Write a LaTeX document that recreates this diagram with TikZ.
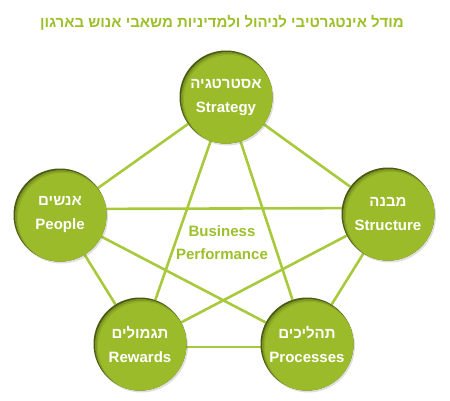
\documentclass[tikz,border=0pt]{standalone}
\usepackage{fontspec}
\setmainfont{Liberation Sans}
\newfontfamily\hebfont[Script=Hebrew]{Liberation Sans}
\TeXXeTstate=1
\usetikzlibrary{shadows, backgrounds}

\definecolor{hrgreen}{HTML}{9BBB2B}
\definecolor{hrline}{HTML}{A9C93C}
\definecolor{hrdark}{HTML}{4A5A12}
\definecolor{hrtitle}{HTML}{9CBF2A}

\tikzset{
    hrcircle/.style={
        circle, minimum size=93pt, inner sep=0pt,
        fill=hrdark, text=white, align=center,
        font=\bfseries\fontsize{15}{24}\selectfont,
        drop shadow={shadow xshift=1.5pt, shadow yshift=-2pt, opacity=0.25, fill=black!50},
        path picture={
            \fill[hrgreen!60!hrdark] ([xshift=1pt, yshift=-1pt]path picture bounding box.center) circle (46pt);
            \fill[hrgreen!85!hrdark] ([xshift=2pt, yshift=-2pt]path picture bounding box.center) circle (45.5pt);
            \fill[hrgreen] ([xshift=3pt, yshift=-3pt]path picture bounding box.center) circle (45pt);
        }
    },
    hrlink/.style={hrline, line width=2.6pt}
}

\begin{document}
\begin{tikzpicture}[x=1pt, y=-1pt]
        \useasboundingbox (0, 0) rectangle (450, 400);

        \node[text=hrtitle, font=\bfseries\fontsize{15}{18}\selectfont] (title) at (222, 23)
            {\hebfont\beginR מודל אינטגרטיבי לניהול ולמדיניות משאבי אנוש בארגון\endR};

        \node[hrcircle] (strategy)  at (226, 97)  {\hebfont\beginR אסטרטגיה\endR\\Strategy};
        \node[hrcircle] (people)    at (60, 215)  {\hebfont\beginR אנשים\endR\\People};
        \node[hrcircle] (structure) at (388, 214) {\hebfont\beginR מבנה\endR\\Structure};
        \node[hrcircle] (rewards)   at (140, 344) {\hebfont\beginR תגמולים\endR\\Rewards};
        \node[hrcircle] (processes) at (307, 344) {\hebfont\beginR תהליכים\endR\\Processes};

        \node[text=hrtitle, align=center, font=\bfseries\fontsize{15}{23}\selectfont] (perf) at (222, 243)
            {Business\\Performance};

        % every circle linked to every other one
        \begin{scope}[on background layer]
            \draw[hrlink] (strategy) -- (people);
            \draw[hrlink] (strategy) -- (structure);
            \draw[hrlink] (strategy) -- (rewards);
            \draw[hrlink] (strategy) -- (processes);
            \draw[hrlink] ([yshift=6pt]people.center) -- ([yshift=6pt]structure.center);
            \draw[hrlink] (people) -- (rewards);
            \draw[hrlink] (people) -- (processes);
            \draw[hrlink] (structure) -- (rewards);
            \draw[hrlink] (structure) -- (processes);
            \draw[hrlink] ([yshift=-3pt]rewards.center) -- ([yshift=-3pt]processes.center);
        \end{scope}
    \end{tikzpicture}
\end{document}
